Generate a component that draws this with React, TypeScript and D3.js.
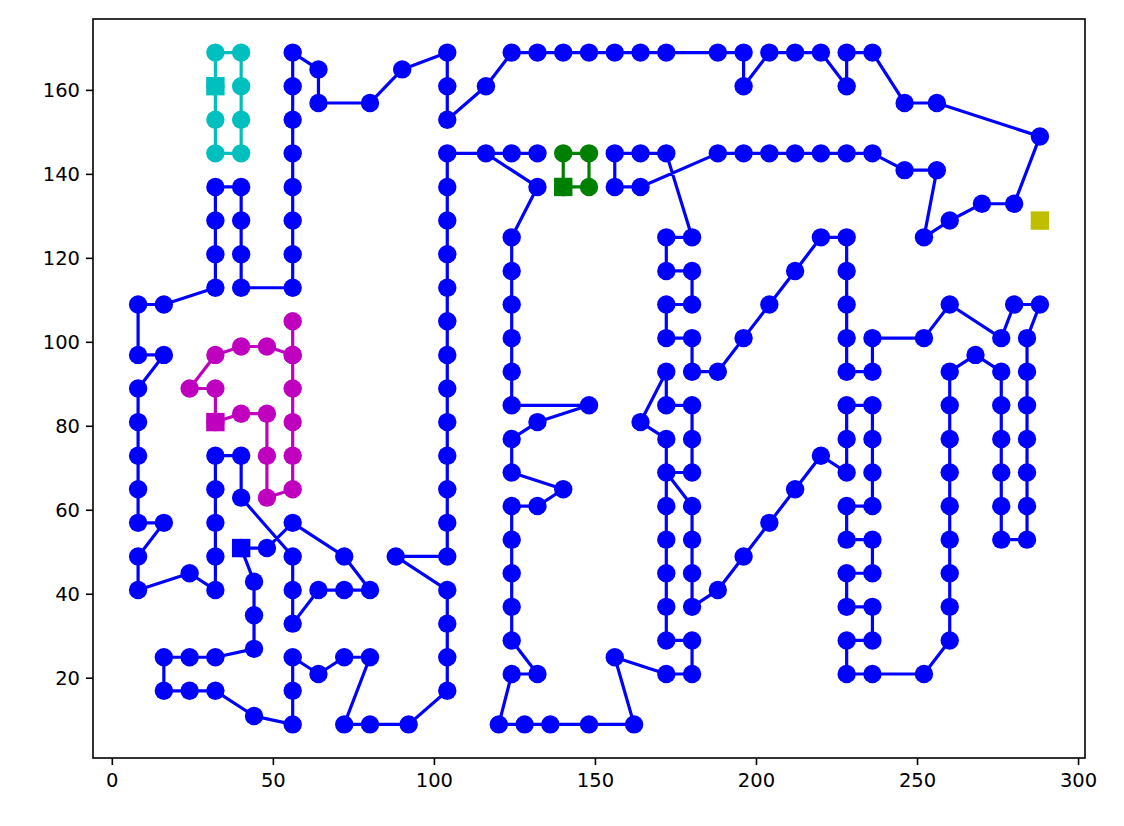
import React from "react";
import * as d3 from "d3";

type Pt = [number, number];

const xTicks = [0, 50, 100, 150, 200, 250, 300];
const yTicks = [20, 40, 60, 80, 100, 120, 140, 160];

const blueRoute: Pt[] = [
  [40,51],[48,51],[56,57],[72,49],[80,41],[72,41],[64,41],[56,33],[56,41],[56,49],[40,63],[40,73],[32,73],[32,65],[32,57],[32,49],[32,41],[24,45],[8,41],[8,49],[16,57],[8,57],[8,65],[8,73],[8,81],[8,89],[16,97],[8,97],[8,109],[16,109],[32,113],[32,121],[32,129],[32,137],[40,137],[40,129],[40,121],[40,113],[56,113],[56,121],[56,129],[56,137],[56,145],[56,153],[56,161],[56,169],[64,165],[64,157],[80,157],[90,165],[104,169],[104,161],[104,153],[116,161],[124,169],[132,169],[140,169],[148,169],[156,169],[164,169],[172,169],[188,169],[196,169],[196,161],[204,169],[212,169],[220,169],[228,161],[228,169],[236,169],[246,157],[256,157],[288,149],[280,133],[270,133],[260,129],[252,125],[256,141],[246,141],[236,145],[228,145],[220,145],[212,145],[204,145],[196,145],[188,145],[164,137],[156,137],[156,145],[164,145],[172,145],[180,125],[172,125],[172,117],[180,117],[180,109],[172,109],[172,101],[180,101],[180,93],[188,93],[196,101],[204,109],[212,117],[220,125],[228,125],[228,117],[228,109],[228,101],[228,93],[236,93],[236,101],[252,101],[260,109],[276,101],[280,109],[288,109],[284,101],[284,93],[284,85],[284,77],[284,69],[284,61],[284,53],[276,53],[276,61],[276,69],[276,77],[276,85],[276,93],[268,97],[260,93],[260,85],[260,77],[260,69],[260,61],[260,53],[260,45],[260,37],[260,29],[252,21],[236,21],[228,21],[228,29],[236,29],[236,37],[228,37],[228,45],[236,45],[236,53],[228,53],[228,61],[236,61],[236,69],[236,77],[236,85],[228,85],[228,77],[228,69],[220,73],[212,65],[204,57],[196,49],[188,41],[180,37],[180,45],[180,53],[180,61],[172,69],[180,69],[180,77],[180,85],[172,85],[172,93],[164,81],[172,77],[172,61],[172,53],[172,45],[172,37],[172,29],[180,29],[180,21],[172,21],[156,25],[162,9],[148,9],[136,9],[128,9],[120,9],[124,21],[132,21],[124,29],[124,37],[124,45],[124,53],[124,61],[132,61],[140,65],[124,69],[124,77],[132,81],[148,85],[124,85],[124,93],[124,101],[124,109],[124,117],[124,125],[132,137],[116,145],[124,145],[132,145],[104,145],[104,137],[104,129],[104,121],[104,113],[104,105],[104,97],[104,89],[104,81],[104,73],[104,65],[104,57],[104,49],[88,49],[104,41],[104,33],[104,25],[104,17],[92,9],[80,9],[72,9],[80,25],[72,25],[64,21],[56,25],[56,17],[56,9],[44,11],[32,17],[24,17],[16,17],[16,25],[24,25],[32,25],[44,27],[44,35],[44,43],[40,51]
];

const cyanRoute: Pt[] = [
  [32,161],[32,169],[40,169],[40,161],[40,153],[40,145],[32,145],[32,153],[32,161]
];

const magentaRoute: Pt[] = [
  [32,81],[40,83],[48,83],[48,73],[48,63],[56,65],[56,73],[56,81],[56,89],[56,97],[56,105],[56,97],[48,99],[40,99],[32,97],[24,89],[32,89],[32,81]
];

const greenRoute: Pt[] = [
  [140,137],[148,137],[148,145],[140,145],[140,137]
];

const yellowRoute: Pt[] = [[288,129]];

const routes = [
  { pts: blueRoute, color: "#0000ff" },
  { pts: cyanRoute, color: "#00bfbf" },
  { pts: magentaRoute, color: "#bf00bf" },
  { pts: greenRoute, color: "#008000" },
  { pts: yellowRoute, color: "#bfbf00" },
];

export default function App() {
  const W = 1124, H = 826;
  const L = 93, R = 1085, T = 19, B = 758;
  const x = d3.scaleLinear().domain([-6, 302]).range([L, R]);
  const y = d3.scaleLinear().domain([1, 177]).range([B, T]);
  const line = d3.line<Pt>().x(d => x(d[0])).y(d => y(d[1]));
  const r = 9.2;
  const sq = 18.4;
  const fs = 19.5;
  return (
    <div style={{ position: "absolute", left: 0, top: 0 }}>
      <svg width={W} height={H} style={{ display: "block", background: "#fff" }} fontFamily="DejaVu Sans">
        <rect x={0} y={0} width={W} height={H} fill="#fff" />
        {routes.map((rt, i) => (
          <g key={i}>
            {rt.pts.length > 1 && (
              <path d={line(rt.pts) || ""} fill="none" stroke={rt.color} strokeWidth={3.2} strokeLinejoin="round" strokeLinecap="square" />
            )}
            {rt.pts.slice(1).map((p, j) => (
              <circle key={j} cx={x(p[0])} cy={y(p[1])} r={r} fill={rt.color} />
            ))}
            <rect x={x(rt.pts[0][0]) - sq / 2} y={y(rt.pts[0][1]) - sq / 2} width={sq} height={sq} fill={rt.color} />
          </g>
        ))}
        <rect x={L} y={T} width={R - L} height={B - T} fill="none" stroke="#000" strokeWidth={1.6} />
        {xTicks.map(t => (
          <g key={"x" + t}>
            <line x1={x(t)} x2={x(t)} y1={B} y2={B + 7} stroke="#000" strokeWidth={1.6} />
            <text x={x(t)} y={B + 14 + fs * 0.76} textAnchor="middle" fontSize={fs} fill="#000">{t}</text>
          </g>
        ))}
        {yTicks.map(t => (
          <g key={"y" + t}>
            <line x1={L - 7} x2={L} y1={y(t)} y2={y(t)} stroke="#000" strokeWidth={1.6} />
            <text x={L - 13} y={y(t) + fs * 0.36} textAnchor="end" fontSize={fs} fill="#000">{t}</text>
          </g>
        ))}
      </svg>
    </div>
  );
}
